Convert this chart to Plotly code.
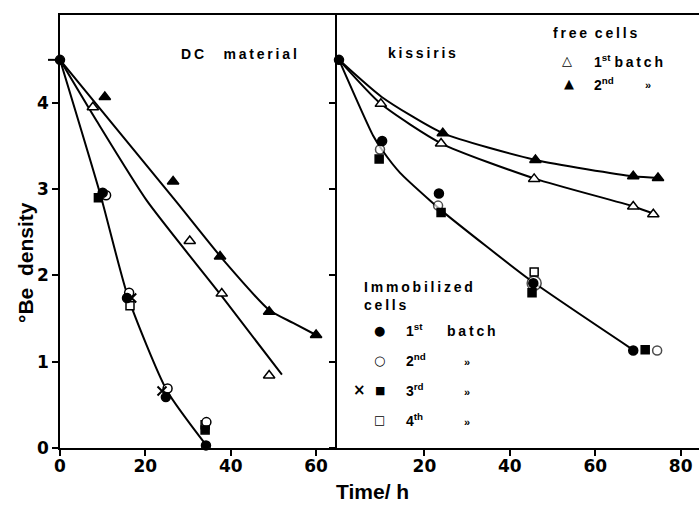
import plotly.graph_objects as go

# ---------------- data ----------------
start_t = [0]
start_y = [4.5]

# DC material (left panel)
dc_free1_t = [7.7, 30.4, 37.9, 49.0]          # free cells, 1st batch (open triangle)
dc_free1_y = [3.95, 2.40, 1.79, 0.84]
dc_free2_t = [10.5, 26.5, 37.5, 49.0, 60.0]   # free cells, 2nd batch (filled triangle)
dc_free2_y = [4.07, 3.09, 2.22, 1.58, 1.31]
dc_imm1_t = [10.0, 15.7, 24.8, 34.2]          # immobilized 1st (filled circle)
dc_imm1_y = [2.96, 1.74, 0.59, 0.03]
dc_imm2_t = [10.8, 16.2, 25.2, 34.3]          # immobilized 2nd (open circle)
dc_imm2_y = [2.93, 1.80, 0.69, 0.30]
dc_imm3sq_t = [9.0, 34.0]                     # immobilized 3rd (filled square)
dc_imm3sq_y = [2.90, 0.21]
dc_imm3x_t = [16.8, 23.9]                     # immobilized 3rd (cross)
dc_imm3x_y = [1.74, 0.66]
dc_imm4_t = [16.4, 34.0]                      # immobilized 4th (open square)
dc_imm4_y = [1.65, 0.27]

dc_free1_curve_t = [0, 8.6, 20.3, 37.9, 52.0]
dc_free1_curve_y = [4.5, 3.79, 2.87, 1.76, 0.85]
dc_free2_curve_t = [0, 27.0, 38.6, 49.0, 54.6, 60.0]
dc_free2_curve_y = [4.5, 2.87, 2.16, 1.60, 1.45, 1.31]
dc_imm_curve_t = [0, 9.5, 16.0, 25.0, 34.3]
dc_imm_curve_y = [4.5, 2.93, 1.74, 0.67, 0.03]

# kissiris (right panel)
ks_free1_t = [9.8, 23.9, 45.7, 68.9, 73.6]
ks_free1_y = [3.99, 3.53, 3.12, 2.80, 2.71]
ks_free2_t = [24.3, 46.0, 68.9, 74.7]
ks_free2_y = [3.65, 3.34, 3.15, 3.13]
ks_imm1_t = [10.1, 23.4, 45.5, 68.9]
ks_imm1_y = [3.56, 2.95, 1.91, 1.13]
ks_imm2_t = [9.6, 23.2, 45.7, 74.5]
ks_imm2_y = [3.46, 2.81, 1.91, 1.13]
ks_imm3_t = [9.4, 23.9, 45.2, 71.7]
ks_imm3_y = [3.35, 2.73, 1.80, 1.14]
ks_imm4_t = [45.7]
ks_imm4_y = [2.04]

ks_free1_curve_t = [0, 9.8, 24.0, 46.0, 69.0, 74.0]
ks_free1_curve_y = [4.5, 3.99, 3.53, 3.12, 2.80, 2.71]
ks_free2_curve_t = [0, 10.0, 24.3, 46.0, 69.0, 75.0]
ks_free2_curve_y = [4.5, 4.07, 3.65, 3.34, 3.15, 3.13]
ks_imm_curve_t = [0, 8.0, 10.3, 14.3, 21.3, 25.3, 44.7, 68.5]
ks_imm_curve_y = [4.5, 3.62, 3.44, 3.19, 2.87, 2.70, 1.95, 1.15]

left_ticks = [0, 20, 40, 60]
right_ticks = [20, 40, 60, 80]
y_ticks = [0, 1, 2, 3, 4]

# ---------------- figure ----------------
fig = go.Figure()
FONT = "Liberation Sans"
GLYPH = "DejaVu Sans"
ML, MT, MB, W, H = 60, 15, 62, 699, 510
PW, PH = W - ML, H - MT - MB


def add_curve(t, y, xa, ya):
    fig.add_trace(go.Scatter(x=t, y=y, mode="lines", xaxis=xa, yaxis=ya,
                             line=dict(color="black", width=2, shape="spline", smoothing=0.6),
                             showlegend=False, hoverinfo="skip"))


def add_pts(t, y, xa, ya, symbol, filled, size=9):
    fig.add_trace(go.Scatter(x=t, y=y, mode="markers", xaxis=xa, yaxis=ya, cliponaxis=False,
                             marker=dict(symbol=symbol, size=size,
                                         color="black" if filled else "white",
                                         line=dict(color="black", width=1.5)),
                             showlegend=False, hoverinfo="skip"))


# left panel
add_curve(dc_free1_curve_t, dc_free1_curve_y, "x", "y")
add_curve(dc_free2_curve_t, dc_free2_curve_y, "x", "y")
add_curve(dc_imm_curve_t, dc_imm_curve_y, "x", "y")
add_pts(dc_free1_t, dc_free1_y, "x", "y", "triangle-up", False, 10)
add_pts(dc_free2_t, dc_free2_y, "x", "y", "triangle-up", True, 10)
add_pts(dc_imm4_t, dc_imm4_y, "x", "y", "square", False, 8)
add_pts(dc_imm2_t, dc_imm2_y, "x", "y", "circle", False, 9)
add_pts(dc_imm3sq_t, dc_imm3sq_y, "x", "y", "square", True, 8)
add_pts(dc_imm1_t, dc_imm1_y, "x", "y", "circle", True, 9)
fig.add_trace(go.Scatter(x=dc_imm3x_t, y=dc_imm3x_y, mode="markers", xaxis="x", yaxis="y",
                         marker=dict(symbol="x-thin", size=9, line=dict(color="black", width=2)),
                         showlegend=False, hoverinfo="skip"))
add_pts(start_t, start_y, "x", "y", "circle", True, 9)

# right panel
add_curve(ks_free1_curve_t, ks_free1_curve_y, "x2", "y2")
add_curve(ks_free2_curve_t, ks_free2_curve_y, "x2", "y2")
add_curve(ks_imm_curve_t, ks_imm_curve_y, "x2", "y2")
add_pts(ks_free1_t, ks_free1_y, "x2", "y2", "triangle-up", False, 10)
add_pts(ks_free2_t, ks_free2_y, "x2", "y2", "triangle-up", True, 10)
add_pts(ks_imm4_t, ks_imm4_y, "x2", "y2", "square", False, 8)
fig.add_trace(go.Scatter(x=ks_imm2_t, y=ks_imm2_y, mode="markers", xaxis="x2", yaxis="y2",
                         cliponaxis=False,
                         marker=dict(symbol="circle", size=[9, 9, 14, 9], color="white",
                                     line=dict(color="black", width=1.5)),
                         showlegend=False, hoverinfo="skip"))
add_pts(ks_imm3_t, ks_imm3_y, "x2", "y2", "square", True, 8)
add_pts(ks_imm1_t, ks_imm1_y, "x2", "y2", "circle", True, 9)
add_pts(start_t, start_y, "x2", "y2", "circle", True, 9)

L_END = (337 - ML) / PW
TICKFONT = dict(family="DejaVu Sans", size=17, color="black", weight="bold")
axis_common = dict(showline=True, linecolor="black", linewidth=1.5, ticks="outside",
                   ticklen=6, tickwidth=1.5, tickcolor="black", showgrid=False,
                   zeroline=False, tickfont=TICKFONT)

fig.update_layout(
    width=W, height=H,
    margin=dict(l=ML, r=0, t=MT, b=MB, pad=0),
    paper_bgcolor="white", plot_bgcolor="white",
    font=dict(family=FONT, size=18, color="black", weight="bold"),
    xaxis=dict(domain=[0, L_END], range=[0, 64.9], tickvals=left_ticks, mirror=True,
               anchor="y", ticklabelstandoff=-4, **axis_common),
    xaxis2=dict(domain=[L_END, 1], range=[-0.47, 84.3], tickvals=right_ticks, mirror=True,
                anchor="y2", ticklabelstandoff=-4, **axis_common),
    yaxis=dict(domain=[0, 1], range=[0, 5.02], tickvals=y_ticks, anchor="x", **axis_common),
    yaxis2=dict(domain=[0, 1], matches="y", anchor="x2", showticklabels=False,
                tickvals=y_ticks, **axis_common),
    # start-value dash left of the y axis
    shapes=[dict(type="line", xref="paper", yref="y", x0=-12 / PW, x1=0,
                 y0=start_y[0], y1=start_y[0], line=dict(color="black", width=2))],
)

ann = []
TS = "\u2009"


def sp(word):
    return TS.join(word)


def txt(px, py, s, size=14, xanchor="left", family=FONT, **kw):
    ann.append(dict(x=(px - ML) / PW, y=(H - MB - py) / PH, xref="paper", yref="paper",
                    text=s, showarrow=False, xanchor=xanchor, yanchor="middle",
                    font=dict(family=family, size=size, color="black", weight="bold"), **kw))


txt(239, 54, sp("DC") + "     " + sp("material"), xanchor="center", size=14)
txt(422, 53, sp("kissiris"), xanchor="center", size=14)
txt(551, 33, sp("free") + "  " + sp("cells"), size=14)
txt(567, 61, "△", xanchor="center", family=GLYPH, size=13)
txt(592, 61, "1<sup>st</sup> " + sp("batch"), size=14)
txt(569, 84, "▲", xanchor="center", family=GLYPH, size=13)
txt(592, 84, "2<sup>nd</sup>", size=14)
txt(648, 85, "»", xanchor="center", size=11)

txt(362, 287, sp("Immobilized"), size=14)
txt(362, 305, sp("cells"), size=14)
txt(379, 330, "●", xanchor="center", family=GLYPH, size=13)
txt(404, 330, "1<sup>st</sup>", size=14)
txt(445, 331, sp("batch"), size=14)
txt(379, 360, "○", xanchor="center", family=GLYPH, size=13)
txt(404, 360, "2<sup>nd</sup>", size=14)
txt(467, 362, "»", xanchor="center", size=11)
txt(359, 390, "×", xanchor="center", family=GLYPH, size=15)
txt(380, 390, "■", xanchor="center", family=GLYPH, size=11)
txt(404, 390, "3<sup>rd</sup>", size=14)
txt(467, 392, "»", xanchor="center", size=11)
txt(379, 420, "□", xanchor="center", family=GLYPH, size=12)
txt(404, 420, "4<sup>th</sup>", size=14)
txt(467, 422, "»", xanchor="center", size=11)

# axis titles
txt(372, 492, "Time/ h", xanchor="center", size=21)
txt(25, 263, "°Be  density", xanchor="center", size=21, textangle=-90)

fig.update_layout(annotations=ann)
fig.write_html("out.html", config={"displayModeBar": False},
               post_script="document.body.style.margin='0';")
